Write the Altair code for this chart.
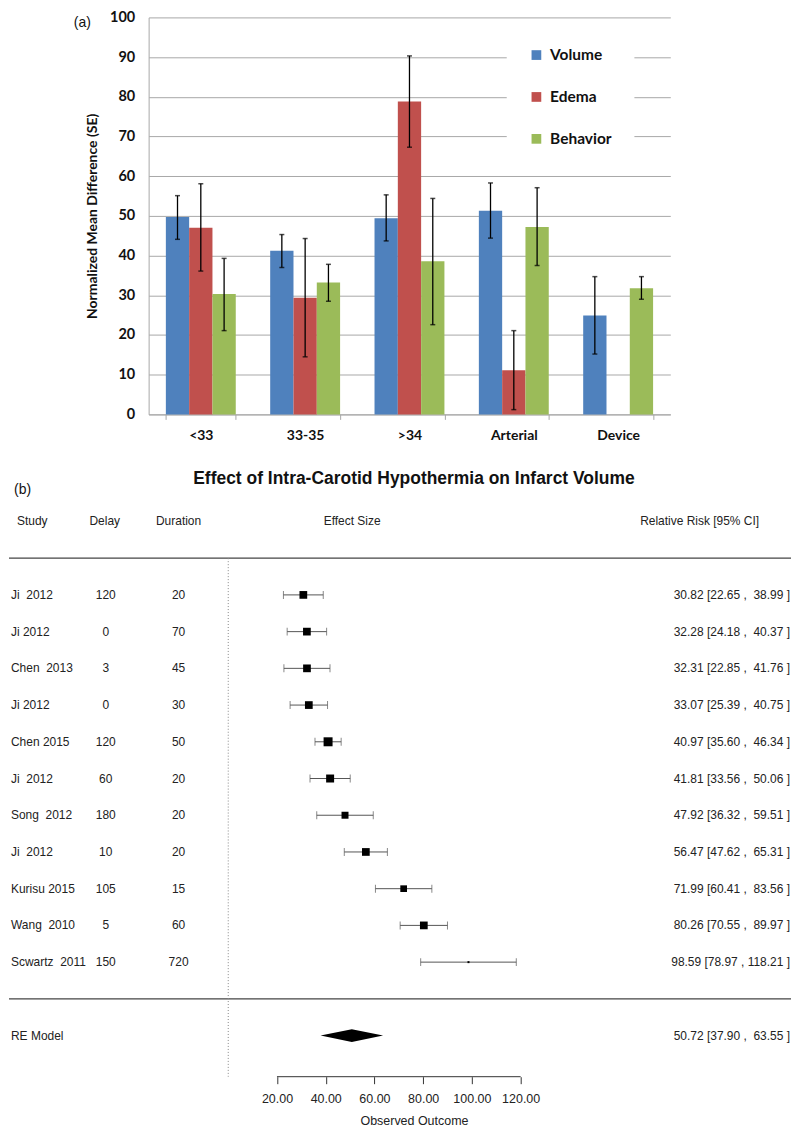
import altair as alt
import pandas as pd

# ---------------- Panel (a) data ----------------
categories = ["<33", "33-35", ">34", "Arterial", "Device"]
series = ["Volume", "Edema", "Behavior"]
series_colors = ["#4F81BD", "#C0504D", "#9BBB59"]

volume_mean = [49.7, 41.2, 49.4, 51.3, 24.9]
volume_lo = [44.1, 37.0, 43.7, 44.4, 15.2]
volume_hi = [55.1, 45.3, 55.3, 58.3, 34.7]

edema_mean = [47.0, 29.4, 78.8, 11.1, None]
edema_lo = [36.1, 14.5, 67.3, 1.2, None]
edema_hi = [58.1, 44.3, 90.3, 21.1, None]

behavior_mean = [30.3, 33.2, 38.6, 47.2, 31.8]
behavior_lo = [21.1, 28.5, 22.6, 37.5, 29.0]
behavior_hi = [39.3, 37.8, 54.4, 57.1, 34.7]

y_ticks_a = list(range(0, 101, 10))

# ---------------- Panel (b) data ----------------
studies = ["Ji\u00a0 2012", "Ji 2012", "Chen\u00a0 2013", "Ji 2012", "Chen 2015",
           "Ji\u00a0 2012", "Song\u00a0 2012", "Ji\u00a0 2012", "Kurisu 2015",
           "Wang\u00a0 2010", "Scwartz\u00a0 2011"]
delays = [120, 0, 3, 0, 120, 60, 180, 10, 105, 5, 150]
durations = [20, 70, 45, 30, 50, 20, 20, 20, 15, 60, 720]
effect = [30.82, 32.28, 32.31, 33.07, 40.97, 41.81, 47.92, 56.47, 71.99, 80.26, 98.59]
ci_lo = [22.65, 24.18, 22.85, 25.39, 35.60, 33.56, 36.32, 47.62, 60.41, 70.55, 78.97]
ci_hi = [38.99, 40.37, 41.76, 40.75, 46.34, 50.06, 59.51, 65.31, 83.56, 89.97, 118.21]
weights = [60, 60, 60, 60, 81, 64, 49, 60, 45, 60, 4]
re_label = "RE Model"
re_est, re_lo, re_hi = 50.72, 37.90, 63.55
x_ticks_b = [20, 40, 60, 80, 100, 120]
headers = ["Study", "Delay", "Duration", "Effect Size", "Relative Risk [95% CI]"]
title_b = "Effect of Intra-Carotid Hypothermia on Infarct Volume"

# ---------------- Panel (a) chart ----------------
rows_a = []
for s, m, lo, hi in [("Volume", volume_mean, volume_lo, volume_hi),
                     ("Edema", edema_mean, edema_lo, edema_hi),
                     ("Behavior", behavior_mean, behavior_lo, behavior_hi)]:
    for c, mv, lv, hv in zip(categories, m, lo, hi):
        if mv is not None:
            rows_a.append({"cat": c, "series": s, "mean": mv, "lo": lv, "hi": hv})
df_a = pd.DataFrame(rows_a)

FONT_A = "Lato"
grid_gray = "#A8A8A8"

x_a = alt.X("cat:N", sort=categories,
            scale=alt.Scale(domain=categories, paddingInner=0.33, paddingOuter=0.165),
            axis=alt.Axis(title=None, labelAngle=0, tickBand="extent", grid=False,
                          domainColor=grid_gray, tickColor=grid_gray, tickSize=5,
                          labelFont=FONT_A, labelFontSize=14, labelFontWeight="bold",
                          labelColor="#111111", labelPadding=9))
xo_a = alt.XOffset("series:N", sort=series,
                   scale=alt.Scale(domain=series, paddingInner=0, paddingOuter=0))
y_scale_a = alt.Scale(domain=[0, 100], nice=False, zero=True)
y_axis_a = alt.Axis(title="Normalized Mean Difference (SE)", values=y_ticks_a,
                    grid=True, gridColor=grid_gray, gridWidth=1,
                    domainColor=grid_gray, ticks=False, tickSize=0,
                    labelFont=FONT_A, labelFontSize=14.5, labelFontWeight="bold",
                    labelColor="#111111", labelPadding=14,
                    titleFont=FONT_A, titleFontSize=14, titleFontWeight="bold",
                    titleColor="#111111", titlePadding=10)

bars = alt.Chart(df_a).mark_bar().encode(
    x=x_a, xOffset=xo_a,
    y=alt.Y("mean:Q", scale=y_scale_a, axis=y_axis_a),
    color=alt.Color("series:N", sort=series,
                    scale=alt.Scale(domain=series, range=series_colors),
                    legend=alt.Legend(title=None, orient="none", legendX=359, legendY=8,
                                      fillColor="white", padding=22,
                                      symbolType="square", symbolSize=95,
                                      symbolStrokeWidth=0, labelOffset=6,
                                      labelFont=FONT_A, labelFontSize=15.5,
                                      labelFontWeight="bold", labelColor="#111111",
                                      rowPadding=25)),
)
err_rule = alt.Chart(df_a).mark_rule(color="black", strokeWidth=1.3).encode(
    x=x_a, xOffset=xo_a,
    y=alt.Y("lo:Q", scale=y_scale_a, axis=y_axis_a), y2="hi:Q")
cap_lo = alt.Chart(df_a).mark_tick(color="black", size=5, thickness=1.5).encode(
    x=x_a, xOffset=xo_a, y=alt.Y("lo:Q", scale=y_scale_a, axis=y_axis_a))
cap_hi = alt.Chart(df_a).mark_tick(color="black", size=5, thickness=1.5).encode(
    x=x_a, xOffset=xo_a, y=alt.Y("hi:Q", scale=y_scale_a, axis=y_axis_a))
label_a = alt.Chart(pd.DataFrame({"t": ["(a)"]})).mark_text(
    align="left", baseline="middle", font="Liberation Sans", fontSize=14, color="#111111"
).encode(x=alt.value(-75), y=alt.value(6), text="t:N")

top = alt.layer(bars, err_rule, cap_lo, cap_hi, label_a).properties(width=523, height=398)

# ---------------- Panel (b) chart ----------------
def fmt_ci(e, lo, hi):
    pad = "\u00a0" if hi < 100 else ""
    return f"{e:.2f} [{lo:.2f} ,{pad} {hi:.2f} ]"

df_b = pd.DataFrame({
    "row": list(range(1, len(studies) + 1)),
    "study": studies, "delay": delays, "duration": durations,
    "est": effect, "lo": ci_lo, "hi": ci_hi, "w": weights,
})
df_b["ci"] = [fmt_ci(e, l, h) for e, l, h in zip(effect, ci_lo, ci_hi)]
RE_ROW = 13
df_lbl = pd.concat([
    df_b[["row", "study", "ci"]],
    pd.DataFrame({"row": [RE_ROW], "study": [re_label], "ci": [fmt_ci(re_est, re_lo, re_hi)]}),
], ignore_index=True)

DIA_H = 0.172
df_dia = pd.DataFrame({
    "x": [re_lo, re_est, re_hi],
    "top": [RE_ROW, RE_ROW - DIA_H, RE_ROW],
    "bot": [RE_ROW, RE_ROW + DIA_H, RE_ROW],
})

FONT_B = "Liberation Sans"
TXT = "#222222"
W_B = 532
X0_PX = 79.8
PX_PER = 2.443
x_scale_b = alt.Scale(domain=[-X0_PX / PX_PER, (W_B - X0_PX) / PX_PER], nice=False, zero=False)
Y_TOP, Y_BOT = -2.15, 14.12
ROW_STEP = 36.8
y_scale_b = alt.Scale(domain=[Y_TOP, Y_BOT], reverse=True, nice=False, zero=False)
x_axis_b = alt.Axis(title="Observed Outcome", values=x_ticks_b, format=".2f", domain=False,
                    grid=False, tickSize=7, tickColor="#333333", tickWidth=1,
                    labelFont=FONT_B, labelFontSize=12.5, labelColor=TXT, labelPadding=9,
                    titleFont=FONT_B, titleFontSize=12.5, titleFontWeight="normal",
                    titleColor=TXT, titlePadding=9)
one = pd.DataFrame({"a": [0]})

def ydat(v):
    return alt.Y(datum=v, scale=y_scale_b, axis=None)

hlines = [
    alt.Chart(one).mark_rule(color="#444444", strokeWidth=1.2).encode(
        x=alt.value(-140), x2=alt.value(644), y=ydat(v))
    for v in (0, 12)
]
zero_line = alt.Chart(one).mark_rule(color="#888888", strokeWidth=1, strokeDash=[1, 2]).encode(
    x=alt.X(datum=0, scale=x_scale_b, axis=x_axis_b), y=ydat(0), y2=alt.datum(Y_BOT))
axis_line = alt.Chart(one).mark_rule(color="#333333", strokeWidth=1).encode(
    x=alt.X(datum=x_ticks_b[0], scale=x_scale_b, axis=x_axis_b), x2=alt.datum(x_ticks_b[-1]),
    y=ydat(Y_BOT))

y_row = alt.Y("row:Q", scale=y_scale_b, axis=None)
ci_rule = alt.Chart(df_b).mark_rule(color="#555555", strokeWidth=1).encode(
    x=alt.X("lo:Q", scale=x_scale_b, axis=x_axis_b), x2="hi:Q", y=y_row)
ci_cap_lo = alt.Chart(df_b).mark_tick(color="#555555", orient="vertical", size=8, thickness=1).encode(
    x=alt.X("lo:Q", scale=x_scale_b, axis=x_axis_b), y=y_row)
ci_cap_hi = alt.Chart(df_b).mark_tick(color="#555555", orient="vertical", size=8, thickness=1).encode(
    x=alt.X("hi:Q", scale=x_scale_b, axis=x_axis_b), y=y_row)
squares = alt.Chart(df_b).mark_point(shape="square", filled=True, color="black", opacity=1).encode(
    x=alt.X("est:Q", scale=x_scale_b, axis=x_axis_b), y=y_row,
    size=alt.Size("w:Q", scale=alt.Scale(type="linear", domain=[0, 100], range=[0, 100]), legend=None))
diamond = alt.Chart(df_dia).mark_area(color="black", opacity=1).encode(
    x=alt.X("x:Q", scale=x_scale_b, axis=x_axis_b),
    y=alt.Y("top:Q", scale=y_scale_b, axis=None), y2="bot:Q")

def col_text(df, field, xpx, align):
    return alt.Chart(df).mark_text(align=align, baseline="middle", font=FONT_B,
                                   fontSize=12, color=TXT).encode(
        x=alt.value(xpx), y=y_row, text=f"{field}:N")

t_study = col_text(df_lbl, "study", -138, "left")
t_delay = col_text(df_b, "delay", -43, "center")
t_dur = col_text(df_b, "duration", 30, "center")
t_ci = col_text(df_lbl, "ci", 643, "right")

hdr_df = pd.DataFrame({"h": headers})
hdr_pos = [(-132, "left"), (-44, "center"), (30, "center"), (204, "center"), (612, "right")]
hdr_layers = [
    alt.Chart(hdr_df.iloc[[i]]).mark_text(align=al, baseline="middle", font=FONT_B,
                                          fontSize=12, color=TXT).encode(
        x=alt.value(xp), y=ydat(-1), text="h:N")
    for i, (xp, al) in enumerate(hdr_pos)
]
title_layer = alt.Chart(pd.DataFrame({"t": [title_b]})).mark_text(
    align="center", baseline="middle", font=FONT_B, fontSize=17.5, fontWeight="bold",
    color="#111111").encode(x=alt.value(266), y=ydat(Y_TOP), text="t:N")
label_b = alt.Chart(pd.DataFrame({"t": ["(b)"]})).mark_text(
    align="left", baseline="middle", font=FONT_B, fontSize=14, color="#111111"
).encode(x=alt.value(-135), y=ydat(-1.85), text="t:N")

bottom = alt.layer(
    *hlines, zero_line, axis_line, ci_rule, ci_cap_lo, ci_cap_hi, squares, diamond,
    t_study, t_delay, t_dur, t_ci, *hdr_layers, title_layer, label_b
).properties(width=W_B, height=round((Y_BOT - Y_TOP) * ROW_STEP))

chart = alt.vconcat(top, bottom, spacing=28).properties(
    padding={"left": 0, "top": 0, "right": 0, "bottom": 0}
).configure(background="white").configure_view(stroke="transparent", strokeWidth=0)

chart.save("out.html", embed_options={"renderer": "svg", "actions": False})
